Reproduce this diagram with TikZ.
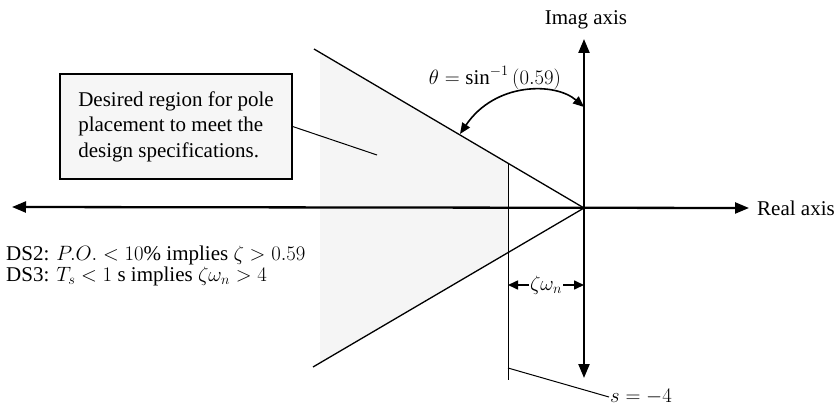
\documentclass[tikz,border=0pt]{standalone}
\usepackage{fontspec}
\setmainfont{Liberation Serif}
\usepackage{amsmath}
\usetikzlibrary{arrows.meta, positioning, calc}
\definecolor{shade1}{RGB}{245,245,245}
\definecolor{boxgray}{RGB}{246,246,246}

\begin{document}
\begin{tikzpicture}[x=1pt, y=-1pt, font=\fontsize{21}{25.5}\selectfont,
  axis/.style={line width=2.3pt, {Triangle[length=14pt, width=11pt]}-{Triangle[length=14pt, width=11pt]}},
  wedge/.style={line width=1.3pt},
  thinline/.style={line width=1pt},
  dimarrow/.style={line width=1.6pt, -{Triangle[length=10pt, width=9pt]}}]
  \useasboundingbox (0,0) rectangle (837,409);

  % shaded region inside the wedge
  \fill[shade1] (320,52.5) -- (508,163.2) -- (508,252.6) -- (320,363) -- cycle;

  % points
  \coordinate (origin) at (584,208);
  \coordinate (realleft) at (12,207);
  \coordinate (realright) at (749,208);
  \coordinate (imagtop) at (584,39);
  \coordinate (imagbot) at (584,378);
  \coordinate (wtop) at (314,49);
  \coordinate (wbot) at (313,367);
  \coordinate (vtop) at (508,163.2);
  \coordinate (vbot) at (508,380);

  % wedge and s = -4 line
  \draw[wedge] (wtop) -- (origin) -- (wbot);
  \draw[thinline] (vtop) -- (vbot);

  % axes
  \draw[axis] (realleft) -- (realright);
  \draw[axis] (imagtop) -- (imagbot);
  \node[anchor=west, inner sep=2pt] (reallabel) at (755,208) {Real axis};
  \node (imaglabel) at (586,20) {Imag axis};

  % angle
  \coordinate (arcleft) at (460,134);
  \coordinate (arcright) at (584,107);
  \draw[line width=1.6pt, {Triangle[length=11pt, width=9pt]}-{Triangle[length=11pt, width=9pt]}]
    (arcleft) .. controls (495,82) and (555,82) .. (arcright);
  \node (thetalabel) at (495,78) {$\theta = \sin^{-1}\,(0.59)$};

  % zeta omega_n distance
  \node[inner sep=1pt] (zw) at (546,285) {$\zeta\omega_n$};
  \coordinate (dimleft) at (508,285);
  \coordinate (dimright) at (584,285);
  \draw[dimarrow] (zw.west) -- (dimleft);
  \draw[dimarrow] (zw.east) -- (dimright);

  % s = -4
  \coordinate (sfoot) at (508,368);
  \node[anchor=west, inner sep=1pt] (slabel) at (609,397) {$s = -4$};
  \draw[thinline] (sfoot) -- (slabel.west);

  % region box
  \node[draw, line width=1.3pt, fill=boxgray, minimum width=232pt, minimum height=105pt,
    align=left] (region) at (176,126.5)
    {Desired region for pole\\ placement to meet the\\ design specifications.};
  \coordinate (regiontip) at (377,155);
  \draw[thinline] (region.east) -- (regiontip);

  % design specs
  \node[anchor=north west, align=left, inner sep=0pt,
    font=\fontsize{21}{20.5}\selectfont] (specs) at (6,246)
    {DS2: $P.O. < 10\%$ implies $\zeta > 0.59$\\
     DS3: $T_s < 1$ s implies $\zeta\omega_n > 4$};
\end{tikzpicture}
\end{document}
